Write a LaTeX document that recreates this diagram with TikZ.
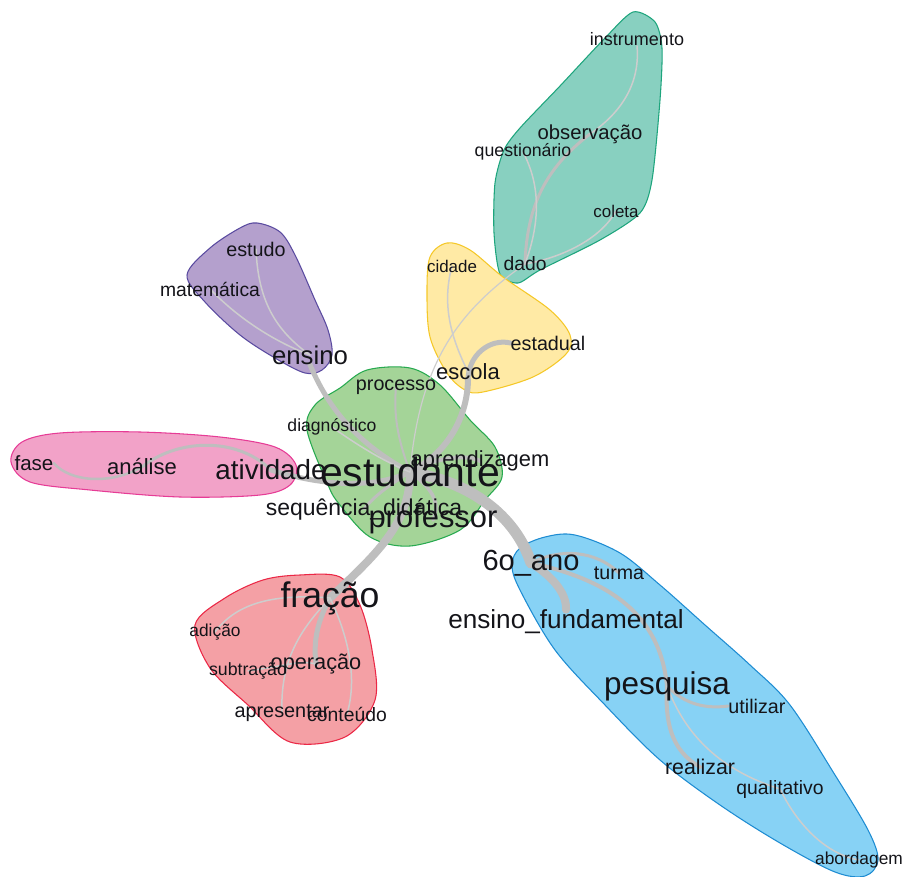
\documentclass[tikz,border=0pt]{standalone}
\usepackage{fontspec}
\setmainfont{Liberation Sans}
\pgfdeclarelayer{blobs}
\pgfdeclarelayer{edges}
\pgfsetlayers{blobs,edges,main}
\definecolor{txt}{RGB}{20,20,25}
\definecolor{edgegray}{RGB}{190,190,190}
\definecolor{edgelight}{RGB}{205,205,205}
\definecolor{tealF}{RGB}{136,208,192}\definecolor{tealD}{RGB}{30,165,125}
\definecolor{yelF}{RGB}{255,234,165}\definecolor{yelD}{RGB}{245,200,40}
\definecolor{purF}{RGB}{180,160,205}\definecolor{purD}{RGB}{90,75,160}
\definecolor{pinF}{RGB}{242,162,200}\definecolor{pinD}{RGB}{230,60,150}
\definecolor{greF}{RGB}{164,212,152}\definecolor{greD}{RGB}{40,170,80}
\definecolor{redF}{RGB}{244,160,165}\definecolor{redD}{RGB}{235,40,70}
\definecolor{bluF}{RGB}{135,210,245}\definecolor{bluD}{RGB}{30,140,210}
\tikzset{
  lbl/.style={inner sep=0pt, text=txt, font=\fontsize{#1}{#1}\selectfont},
  edg/.style={draw=edgegray, line width=#1*0.75pt, line cap=round},
  edgl/.style={draw=edgelight, line width=#1*0.75pt, line cap=round},
  blob/.style 2 args={fill=#1, draw=#2, line width=0.8pt},
}
\begin{document}
\begin{tikzpicture}[x=0.75pt,y=-0.75pt]
\useasboundingbox (0,0) rectangle (903,877);
% ---------- labels ----------
\node[lbl=13.5pt] (instrumento) at (637,39) {instrumento};
\node[lbl=15.2pt] (observacao) at (590,134) {observação};
\node[lbl=13.3pt] (questionario) at (523,152) {questionário};
\node[lbl=12.7pt] (coleta) at (616,211) {coleta};
\node[lbl=14.5pt] (dado) at (525,264) {dado};
\node[lbl=12.7pt] (cidade) at (452,266) {cidade};
\node[lbl=14.8pt] (estadual) at (548,343) {estadual};
\node[lbl=16.5pt] (escola) at (468,372) {escola};
\node[lbl=14.8pt] (processo) at (396,387) {processo};
\node[lbl=14.8pt] (estudo) at (256,249) {estudo};
\node[lbl=14.5pt] (matematica) at (210,289) {matemática};
\node[lbl=19.3pt] (ensino) at (310,355) {ensino};
\node[lbl=13.2pt] (diagnostico) at (332,427) {diagnóstico};
\node[lbl=15.4pt] (fase) at (34,463) {fase};
\node[lbl=16.5pt] (analise) at (142,467) {análise};
\node[lbl=20.8pt] (atividade) at (271,470) {atividade};
\node[lbl=30.7pt] (estudante) at (410,472) {estudante};
\node[lbl=16.4pt] (aprendizagem) at (480,461) {aprendizagem};
\node[lbl=17.2pt] (seqdid) at (364,509) {sequência\_didática};
\node[lbl=23.2pt] (professor) at (433,520) {professor};
\node[lbl=21.8pt] (sexto) at (531,563) {6o\_ano};
\node[lbl=14.7pt] (turma) at (619,573) {turma};
\node[lbl=19.6pt] (ensfund) at (566,622) {ensino\_fundamental};
\node[lbl=26.7pt] (fracao) at (330,598) {fração};
\node[lbl=13pt] (adicao) at (215,632) {adição};
\node[lbl=13.3pt] (subtracao) at (248,671) {subtração};
\node[lbl=16.3pt] (operacao) at (316,664) {operação};
\node[lbl=14.9pt] (apresentar) at (282,713) {apresentar};
\node[lbl=14.5pt] (conteudo) at (347,714) {conteúdo};
\node[lbl=23.6pt] (pesquisa) at (667,686) {pesquisa};
\node[lbl=14.8pt] (utilizar) at (757,706) {utilizar};
\node[lbl=16pt] (realizar) at (700,767) {realizar};
\node[lbl=14.5pt] (qualitativo) at (780,789) {qualitativo};
\node[lbl=13pt] (abordagem) at (859,860) {abordagem};
% ---------- blobs ----------
\begin{pgfonlayer}{blobs}
\filldraw[blob={tealF}{tealD}] plot[smooth cycle, tension=0.45] coordinates {
 (633,12) (655,22) (662,48) (660,100) (652,180) (640,213) (600,240) (540,270)
 (518,283) (500,274) (494,233) (495,183) (504,150) (520,128) (560,86) (605,38)};
\filldraw[blob={yelF}{yelD}] plot[smooth cycle, tension=0.55] coordinates {
 (447,243) (470,250) (503,277) (550,310) (570,335) (566,354) (533,377) (483,392)
 (465,390) (447,373) (430,337) (427,293) (430,257)};
\filldraw[blob={purF}{purD}] plot[smooth cycle, tension=0.55] coordinates {
 (257,223) (280,232) (295,255) (315,300) (328,330) (332,355) (322,370) (305,373)
 (275,358) (240,335) (205,302) (187,275) (210,248) (240,228)};
\filldraw[blob={pinF}{pinD}] plot[smooth cycle, tension=0.55] coordinates {
 (11,462) (22,442) (60,433) (140,432) (220,437) (275,447) (296,465) (290,485)
 (260,495) (180,497) (90,490) (30,482)};
\filldraw[blob={greF}{greD}] plot[smooth cycle, tension=0.55] coordinates {
 (367,370) (410,368) (440,385) (470,420) (495,447) (502,477) (485,500) (460,530)
 (410,546) (370,537) (340,505) (328,485) (307,430) (315,405) (340,388)};
\filldraw[blob={redF}{redD}] plot[smooth cycle, tension=0.55] coordinates {
 (263,580) (300,575) (340,577) (360,605) (372,650) (375,700) (345,737) (290,742)
 (248,705) (210,668) (195,625) (225,598)};
\filldraw[blob={bluF}{bluD}] plot[smooth cycle, tension=0.55] coordinates {
 (520,548) (545,537) (575,535) (620,553) (660,585) (705,625) (750,665) (790,705)
 (835,775) (868,830) (878,860) (865,876) (835,872) (780,843) (720,805) (660,760)
 (605,705) (555,650) (520,590) (512,565)};
\end{pgfonlayer}
% ---------- edges ----------
\begin{pgfonlayer}{edges}
\draw[edg=11] (estudante.center) .. controls (470,482) and (515,515) .. (sexto.center);
\draw[edg=8] (sexto.center) .. controls (550,575) and (567,592) .. (ensfund.north);
\draw[edg=8] (estudante.center) .. controls (410,525) and (375,555) .. (fracao.center);
\draw[edg=6] (estudante.center) .. controls (445,455) and (467,420) .. (escola.south);
\draw[edg=5] (escola.south) .. controls (468,355) and (490,338) .. (estadual.west);
\draw[edg=5] (estudante.center) .. controls (350,440) and (325,400) .. (ensino.south);
\draw[edg=5] (estudante.center) .. controls (370,490) and (320,485) .. (atividade.center);
\draw[edg=4] (estudante.center) .. controls (440,455) and (470,455) .. (aprendizagem.center);
\draw[edg=3.5] (estudante.center) .. controls (435,490) and (440,505) .. (professor.center);
\draw[edg=3] (estudante.center) .. controls (390,485) and (375,495) .. (seqdid.center);
\draw[edg=2] (processo.center) .. controls (393,420) and (400,445) .. (estudante.center);
\draw[edgl=1.5] (diagnostico.center) .. controls (350,440) and (380,460) .. (estudante.center);
\draw[edgl=1.2] (dado.center) .. controls (460,310) and (420,360) .. (estudante.center);
\draw[edg=3] (atividade.center) .. controls (235,435) and (175,440) .. (analise.center);
\draw[edg=2.5] (analise.center) .. controls (110,485) and (70,482) .. (fase.east);
\draw[edgl=1.5] (matematica.center) .. controls (235,315) and (270,340) .. (ensino.center);
\draw[edgl=1.5] (estudo.center) .. controls (258,300) and (275,330) .. (ensino.center);
\draw[edgl=1.5] (cidade.center) .. controls (440,310) and (455,345) .. (escola.center);
\draw[edg=3] (dado.center) .. controls (527,200) and (550,165) .. (observacao.center);
\draw[edgl=1.5] (observacao.center) .. controls (625,110) and (640,80) .. (instrumento.south);
\draw[edgl=1.5] (dado.center) .. controls (545,210) and (535,175) .. (questionario.center);
\draw[edgl=1.5] (dado.center) .. controls (560,258) and (600,240) .. (coleta.center);
\draw[edg=4] (sexto.center) .. controls (610,580) and (660,615) .. (pesquisa.center);
\draw[edg=3] (sexto.center) .. controls (560,548) and (595,550) .. (turma.center);
\draw[edg=4] (pesquisa.center) .. controls (665,720) and (670,750) .. (realizar.center);
\draw[edg=3] (pesquisa.center) .. controls (680,700) and (700,710) .. (utilizar.west);
\draw[edgl=1.5] (pesquisa.center) .. controls (685,735) and (720,770) .. (qualitativo.center);
\draw[edgl=1.5] (qualitativo.center) .. controls (800,830) and (830,855) .. (abordagem.center);
\draw[edg=5] (fracao.center) .. controls (318,620) and (313,640) .. (operacao.center);
\draw[edgl=1.5] (fracao.center) .. controls (270,593) and (235,605) .. (adicao.center);
\draw[edgl=1.5] (fracao.center) .. controls (300,630) and (280,660) .. (apresentar.center);
\draw[edgl=1.5] (operacao.center) .. controls (300,660) and (290,665) .. (subtracao.center);
\draw[edgl=1.5] (fracao.center) .. controls (350,640) and (357,680) .. (conteudo.center);
\end{pgfonlayer}
\end{tikzpicture}
\end{document}
